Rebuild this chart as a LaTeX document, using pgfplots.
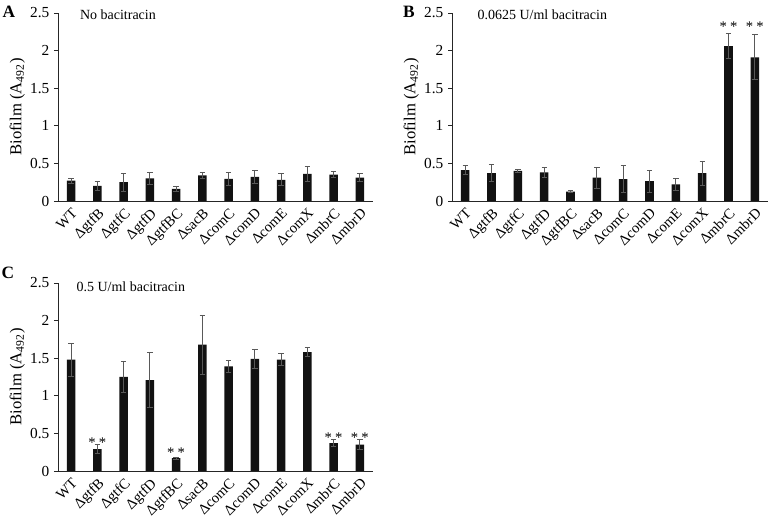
\documentclass[border=0pt]{standalone}
\usepackage{fontspec}
\setmainfont{Liberation Serif}
\usepackage{pgfplots}
\usepackage{pgfplotstable}
\pgfplotsset{compat=1.18}

% biofilm, mean and error, one row per strain (0 = WT ... 11 = mbrD)
\pgfplotstableread{
idx val err
0 0.27 0.035
1 0.20 0.065
2 0.25 0.12
3 0.30 0.075
4 0.16 0.03
5 0.34 0.035
6 0.295 0.085
7 0.32 0.09
8 0.28 0.08
9 0.36 0.095
10 0.35 0.04
11 0.31 0.05
}\dataA
\pgfplotstableread{
idx val err
0 0.41 0.06
1 0.37 0.11
2 0.40 0.02
3 0.38 0.07
4 0.125 0.015
5 0.31 0.14
6 0.29 0.18
7 0.265 0.145
8 0.22 0.08
9 0.37 0.16
10 2.06 0.17
11 1.91 0.30
}\dataB
\pgfplotstableread{
idx val err
0 1.48 0.22
1 0.29 0.06
2 1.25 0.20
3 1.21 0.37
4 0.17 0.015
5 1.68 0.39
6 1.39 0.08
7 1.49 0.12
8 1.48 0.08
9 1.58 0.06
10 0.37 0.045
11 0.35 0.065
}\dataC
% where the significance stars sit
\pgfplotstableread{
idx val
10 2.36
11 2.36
}\starsB
\pgfplotstableread{
idx val
1 0.425
4 0.29
10 0.49
11 0.49
}\starsC

\pgfplotsset{
  panel/.style={
    scale only axis,
    width=236.25pt, height=141pt,
    bar width=6.4pt,
    xmin=-0.5, xmax=11.5,
    ymin=0, ymax=2.5,
    ytick={0,0.5,1,1.5,2,2.5},
    xtick={0,...,11},
    xticklabels={WT,ΔgtfB,ΔgtfC,ΔgtfD,ΔgtfBC,ΔsacB,ΔcomC,ΔcomD,ΔcomE,ΔcomX,ΔmbrC,ΔmbrD},
    axis lines*=left,
    axis line style={black!85, line width=0.6pt},
    x tick style={draw=none},
    y tick style={black!85, line width=0.6pt},
    tick align=outside,
    major tick length=3pt,
    yticklabel style={font=\fontsize{11.5}{13}\selectfont},
    xticklabel style={font=\fontsize{11}{12}\selectfont, rotate=45, anchor=north east, inner sep=1pt},
    /pgf/number format/assume math mode=true,
    ylabel={Biofilm (A\textsubscript{492})},
    ylabel style={font=\fontsize{12.5}{14}\selectfont, yshift=-3pt},
    clip=false,
  },
  bars/.style={ybar, fill=black!93, draw=none,
    error bars/.cd, y dir=both, y explicit,
    error bar style={black!65, line width=0.7pt},
    error mark options={black!65, line width=0.7pt, mark size=2pt, rotate=90}},
  stars/.style={draw=none, mark=none,
    nodes near coords={*\hspace{0.22em}*},
    nodes near coords style={anchor=base, yshift=-6pt, font=\fontsize{11}{12}\selectfont}},
}

\begin{document}
\begin{tikzpicture}
\useasboundingbox (0,0) rectangle (578.25pt,390pt);

\begin{axis}[panel, at={(43.5pt,239.25pt)}, anchor=south west]
\addplot[bars] table[x=idx, y=val, y error=err] {\dataA};
\node[anchor=west, font=\fontsize{10.5}{12}\selectfont] at (rel axis cs:0.055,0.99) {No bacitracin};
\end{axis}

\begin{axis}[panel, width=237pt, at={(339pt,239.25pt)}, anchor=south west]
\addplot[bars] table[x=idx, y=val, y error=err] {\dataB};
\addplot[stars] table[x=idx, y=val] {\starsB};
\node[anchor=west, font=\fontsize{10.5}{12}\selectfont] at (rel axis cs:0.066,0.99) {0.0625 U/ml bacitracin};
\end{axis}

\begin{axis}[panel, at={(43.5pt,36.75pt)}, anchor=south west]
\addplot[bars] table[x=idx, y=val, y error=err] {\dataC};
\addplot[stars] table[x=idx, y=val] {\starsC};
\node[anchor=west, font=\fontsize{10.5}{12}\selectfont] at (rel axis cs:0.044,0.979) {0.5 U/ml bacitracin};
\end{axis}

\node[font=\bfseries\fontsize{13}{14}\selectfont] at (6.75pt,381pt) {A};
\node[font=\bfseries\fontsize{13}{14}\selectfont] at (306.75pt,381pt) {B};
\node[font=\bfseries\fontsize{13}{14}\selectfont] at (6pt,185.25pt) {C};
\end{tikzpicture}
\end{document}
